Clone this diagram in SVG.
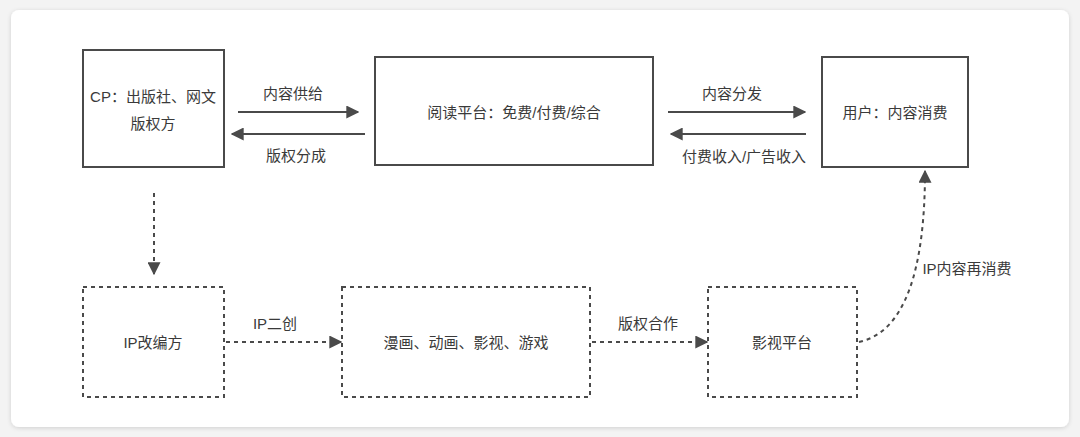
<svg xmlns="http://www.w3.org/2000/svg" width="1080" height="437" viewBox="0 0 1080 437">
<defs>
<style>
.box{fill:none;stroke:#4a4a4a;stroke-width:2}
.dbox{fill:none;stroke:#4a4a4a;stroke-width:2;stroke-dasharray:4 4}
.ln{fill:none;stroke:#4a4a4a;stroke-width:2}
.dl{fill:none;stroke:#4a4a4a;stroke-width:2;stroke-dasharray:4 4}
text{font-family:"Liberation Sans","Noto Sans CJK SC",sans-serif;font-size:15px;fill:#3a3a3a;text-anchor:middle;dominant-baseline:central}
</style>
<marker id="ah" viewBox="0 0 10 10" refX="9" refY="5" markerWidth="13" markerHeight="13" markerUnits="userSpaceOnUse" orient="auto">
<path d="M0,0 L10,5 L0,10 Z" fill="#4a4a4a"/>
</marker>
<filter id="sh" x="-5%" y="-5%" width="110%" height="110%">
<feDropShadow dx="0" dy="1" stdDeviation="2" flood-color="#000" flood-opacity="0.15"/>
</filter>
</defs>
<rect width="1080" height="437" fill="#f3f3f3"/>
<rect x="11" y="10" width="1058" height="417" rx="8" fill="#fff" filter="url(#sh)"/>

<g id="cp"><rect class="box" x="83" y="50" width="141" height="117"/><text x="153" y="96">CP：出版社、网文</text><text x="153" y="123">版权方</text></g>
<g id="reader"><rect class="box" x="375" y="57" width="278" height="108"/><text x="514" y="112">阅读平台：免费/付费/综合</text></g>
<g id="user"><rect class="box" x="822" y="57" width="146" height="110"/><text x="895" y="112">用户：内容消费</text></g>
<g id="ip"><rect class="dbox" x="83" y="287" width="141" height="110"/><text x="153" y="342">IP改编方</text></g>
<g id="media"><rect class="dbox" x="342" y="287" width="248" height="110"/><text x="466" y="342">漫画、动画、影视、游戏</text></g>
<g id="film"><rect class="dbox" x="708" y="287" width="149" height="110"/><text x="782" y="342">影视平台</text></g>

<g id="connectors">
<line class="ln" x1="238" y1="112" x2="358" y2="112" marker-end="url(#ah)"/>
<line class="ln" x1="365" y1="134" x2="232" y2="134" marker-end="url(#ah)"/>
<line class="ln" x1="668" y1="112" x2="805" y2="112" marker-end="url(#ah)"/>
<line class="ln" x1="806" y1="134" x2="671" y2="134" marker-end="url(#ah)"/>
<line class="dl" x1="154" y1="193" x2="154" y2="274" marker-end="url(#ah)"/>
<line class="dl" x1="226" y1="342" x2="341" y2="342" marker-end="url(#ah)"/>
<line class="dl" x1="592" y1="342" x2="707" y2="342" marker-end="url(#ah)"/>
<path class="dl" d="M859,342 C905,332 925,270 925,171" marker-end="url(#ah)"/>
<text x="293" y="93">内容供给</text>
<text x="296" y="155">版权分成</text>
<text x="732" y="93">内容分发</text>
<text x="744" y="156">付费收入/广告收入</text>
<text x="275" y="323">IP二创</text>
<text x="648" y="323">版权合作</text>
<text x="967" y="268">IP内容再消费</text>
</g>
</svg>
